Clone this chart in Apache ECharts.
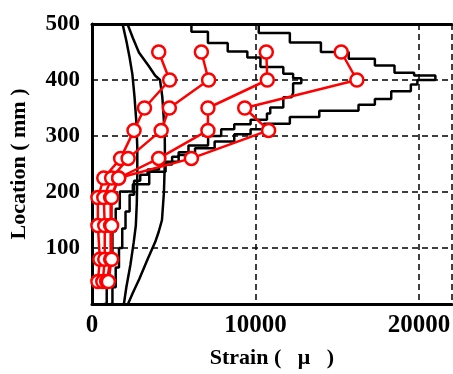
<!DOCTYPE html>
<html>
<head>
<meta charset="utf-8">
<script src="https://cdn.jsdelivr.net/npm/echarts@6/dist/echarts.min.js"></script>
<style>
  html, body { margin: 0; padding: 0; background: #fff; }
  #chart { width: 453px; height: 374px; }
</style>
</head>
<body>
<div id="chart"></div>
<script>
// gauge locations of the measured strains (mm)
const locations = [450, 400, 350, 310, 260, 225, 190, 140, 80, 40];

// measured strain at each location, one array per load stage
const testA = [4080, 4750, 3210, 2570, 1750, 720, 360, 360, 480, 360];
const testB = [6690, 7130, 4730, 4230, 2210, 1200, 720, 780, 780, 660];
const testC = [10660, 10720, 7090, 7090, 4080, 1630, 1140, 1140, 1140, 900];
const testD = [15240, 16200, 9340, 10800, 6080, 1630, 1200, 1200, 1200, 1000];

// analysis curves, [strain, location] from top to bottom
const calc1 = [[1870, 500], [2100, 470], [2300, 440], [2470, 410], [2600, 370], [2700, 330],
  [2770, 280], [2770, 230], [2740, 180], [2680, 140], [2550, 110], [2350, 70], [2100, 30], [1950, 0]];
const calc2 = [[2170, 500], [2500, 475], [2870, 449], [3470, 425], [3860, 408], [4160, 400],
  [4300, 370], [4370, 340], [4450, 300], [4460, 260], [4400, 200], [4280, 150], [4080, 129],
  [3870, 111], [3400, 80], [2900, 45], [2500, 20], [2200, 0]];
const calc3 = [[6080, 500], [7090, 486], [8300, 466], [9500, 451], [10300, 440], [11700, 423],
  [12300, 411], [12800, 403], [12300, 394], [12200, 377], [11700, 369], [10900, 351],
  [10700, 340], [9700, 329], [8700, 321], [7900, 312], [7100, 300], [5900, 283], [5300, 271],
  [4900, 263], [4100, 249], [3400, 240], [2950, 231], [2570, 220], [2300, 195], [2050, 165],
  [1850, 135], [1650, 100], [1450, 65], [1250, 30], [1140, 0]];
const calc4 = [[10200, 500], [12100, 484], [14000, 467], [15700, 450], [17300, 438], [18500, 426],
  [19700, 413], [21000, 408], [19900, 400], [19500, 392], [18300, 380], [17300, 366],
  [16300, 356], [13900, 345], [12100, 334], [10500, 322], [9700, 312], [8700, 303],
  [7500, 290], [6300, 278], [5300, 266], [4500, 254], [3500, 236], [2500, 214], [1700, 201],
  [1450, 170], [1250, 130], [1050, 90], [900, 50], [720, 0]];

const font = '"Liberation Serif", "Times New Roman", serif';
const pair = (vals) => vals.map((v, i) => [v, locations[i]]);

const chart = echarts.init(document.getElementById('chart'), null, { renderer: 'canvas' });

// staircase curves go down first, then across
const blackLine = (data, step) => ({
  type: 'line',
  data: data,
  step: step ? 'start' : false,
  showSymbol: false,
  symbol: 'none',
  lineStyle: { color: '#000', width: 2.5 },
  z: 2,
  animation: false
});

const redLine = (vals) => ({
  type: 'line',
  data: pair(vals),
  symbol: 'circle',
  symbolSize: 13,
  itemStyle: { color: '#fff', borderColor: '#ff0000', borderWidth: 2.5 },
  lineStyle: { color: '#ff0000', width: 2.5 },
  z: 5,
  animation: false
});

const option = {
  animation: false,
  grid: { left: 89, top: 24, right: 0, bottom: 59 },
  xAxis: [{
    type: 'value',
    min: 0,
    max: 22000,
    interval: 10000,
    name: 'Strain (   μ   )',
    nameLocation: 'middle',
    nameGap: 43,
    nameTextStyle: { fontFamily: font, fontWeight: 'bold', fontSize: 22, color: '#000' },
    axisLine: { lineStyle: { color: '#000', width: 3 } },
    axisTick: { show: false },
    axisLabel: {
      fontFamily: font, fontWeight: 'bold', fontSize: 25, color: '#000', margin: 9,
      formatter: (v) => String(v)
    },
    splitLine: { lineStyle: { color: '#000', width: 1.5, type: [6, 4] } }
  }, {
    type: 'value',
    position: 'top',
    min: 0,
    max: 22000,
    axisLine: { show: true, lineStyle: { color: '#000', width: 3 } },
    axisTick: { show: false },
    axisLabel: { show: false },
    splitLine: { show: false }
  }],
  yAxis: {
    type: 'value',
    min: 0,
    max: 500,
    interval: 100,
    name: 'Location ( mm )',
    nameLocation: 'middle',
    nameGap: 62,
    nameTextStyle: { fontFamily: font, fontWeight: 'bold', fontSize: 22, color: '#000' },
    axisLine: { show: true, lineStyle: { color: '#000', width: 3 } },
    axisTick: { show: false },
    axisLabel: {
      fontFamily: font, fontWeight: 'bold', fontSize: 23, color: '#000', margin: 12,
      formatter: (v) => (v === 0 ? '' : String(v))
    },
    splitLine: { lineStyle: { color: '#000', width: 1.5, type: [6, 4] } }
  },
  series: [
    blackLine(calc1, false),
    blackLine(calc2, false),
    blackLine(calc3, true),
    blackLine(calc4, true),
    redLine(testA),
    redLine(testB),
    redLine(testC),
    redLine(testD)
  ]
};

chart.setOption(option);
</script>
</body>
</html>
